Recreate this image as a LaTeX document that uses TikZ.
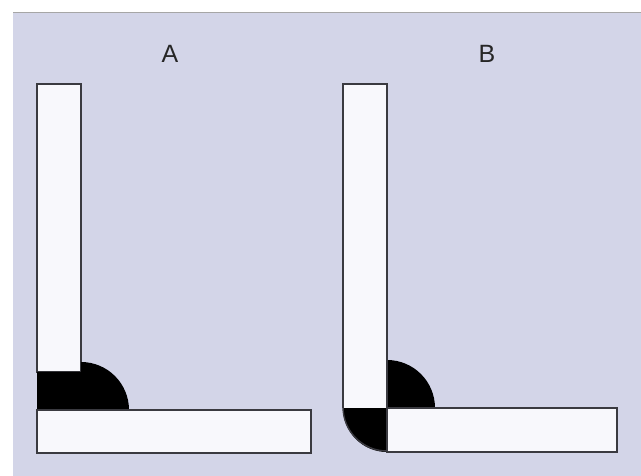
\documentclass[tikz,border=0pt]{standalone}
\usepackage{fontspec}
\setsansfont{Liberation Sans}
\usepackage{tikz}
\definecolor{panelcolor}{HTML}{D3D5E8}
\definecolor{barcolor}{HTML}{F8F8FC}
\definecolor{edgecolor}{HTML}{3A3A40}
\tikzset{
  joint panel/.style={fill=panelcolor},
  joint bar/.style={fill=barcolor,draw=edgecolor,line width=1.4pt},
  joint glue/.style={fill=black},
  joint label/.style={font=\sffamily\fontsize{25}{25}\selectfont,text=black!85}
}
\begin{document}
\begin{tikzpicture}[x=1pt,y=1pt]
  \useasboundingbox (0,0) rectangle (641,476);
  \fill[white] (0,0) rectangle (641,476);
  \fill[joint panel] (13,0) rectangle (641,464);
  \draw[gray!70,line width=.8pt] (13,464)--(641,464);
  \node[joint label] (labelA) at (170,422) {A};
  \node[joint label] (labelB) at (487,422) {B};
  \draw[joint bar] (37,104) rectangle (81,392);
  \fill[joint glue] (37,66)--(37,104)--(81,104)--(81,114) arc (90:0:48)--cycle;
  \draw[joint bar] (37,23) rectangle (311,66);
  \begin{scope}[xshift=306pt]
    \fill[joint glue] (81,68)--(81,116) arc (90:0:48)--cycle;
    \fill[joint glue] (37,68) arc (180:270:44)--(81,68)--cycle;
    \draw[joint bar] (37,68)--(37,392)--(81,392)--(81,68);
    \draw[edgecolor,line width=1.4pt] (37,69) arc (180:270:44);
    \draw[joint bar] (81,24) rectangle (311,68);
  \end{scope}
\end{tikzpicture}
\end{document}
